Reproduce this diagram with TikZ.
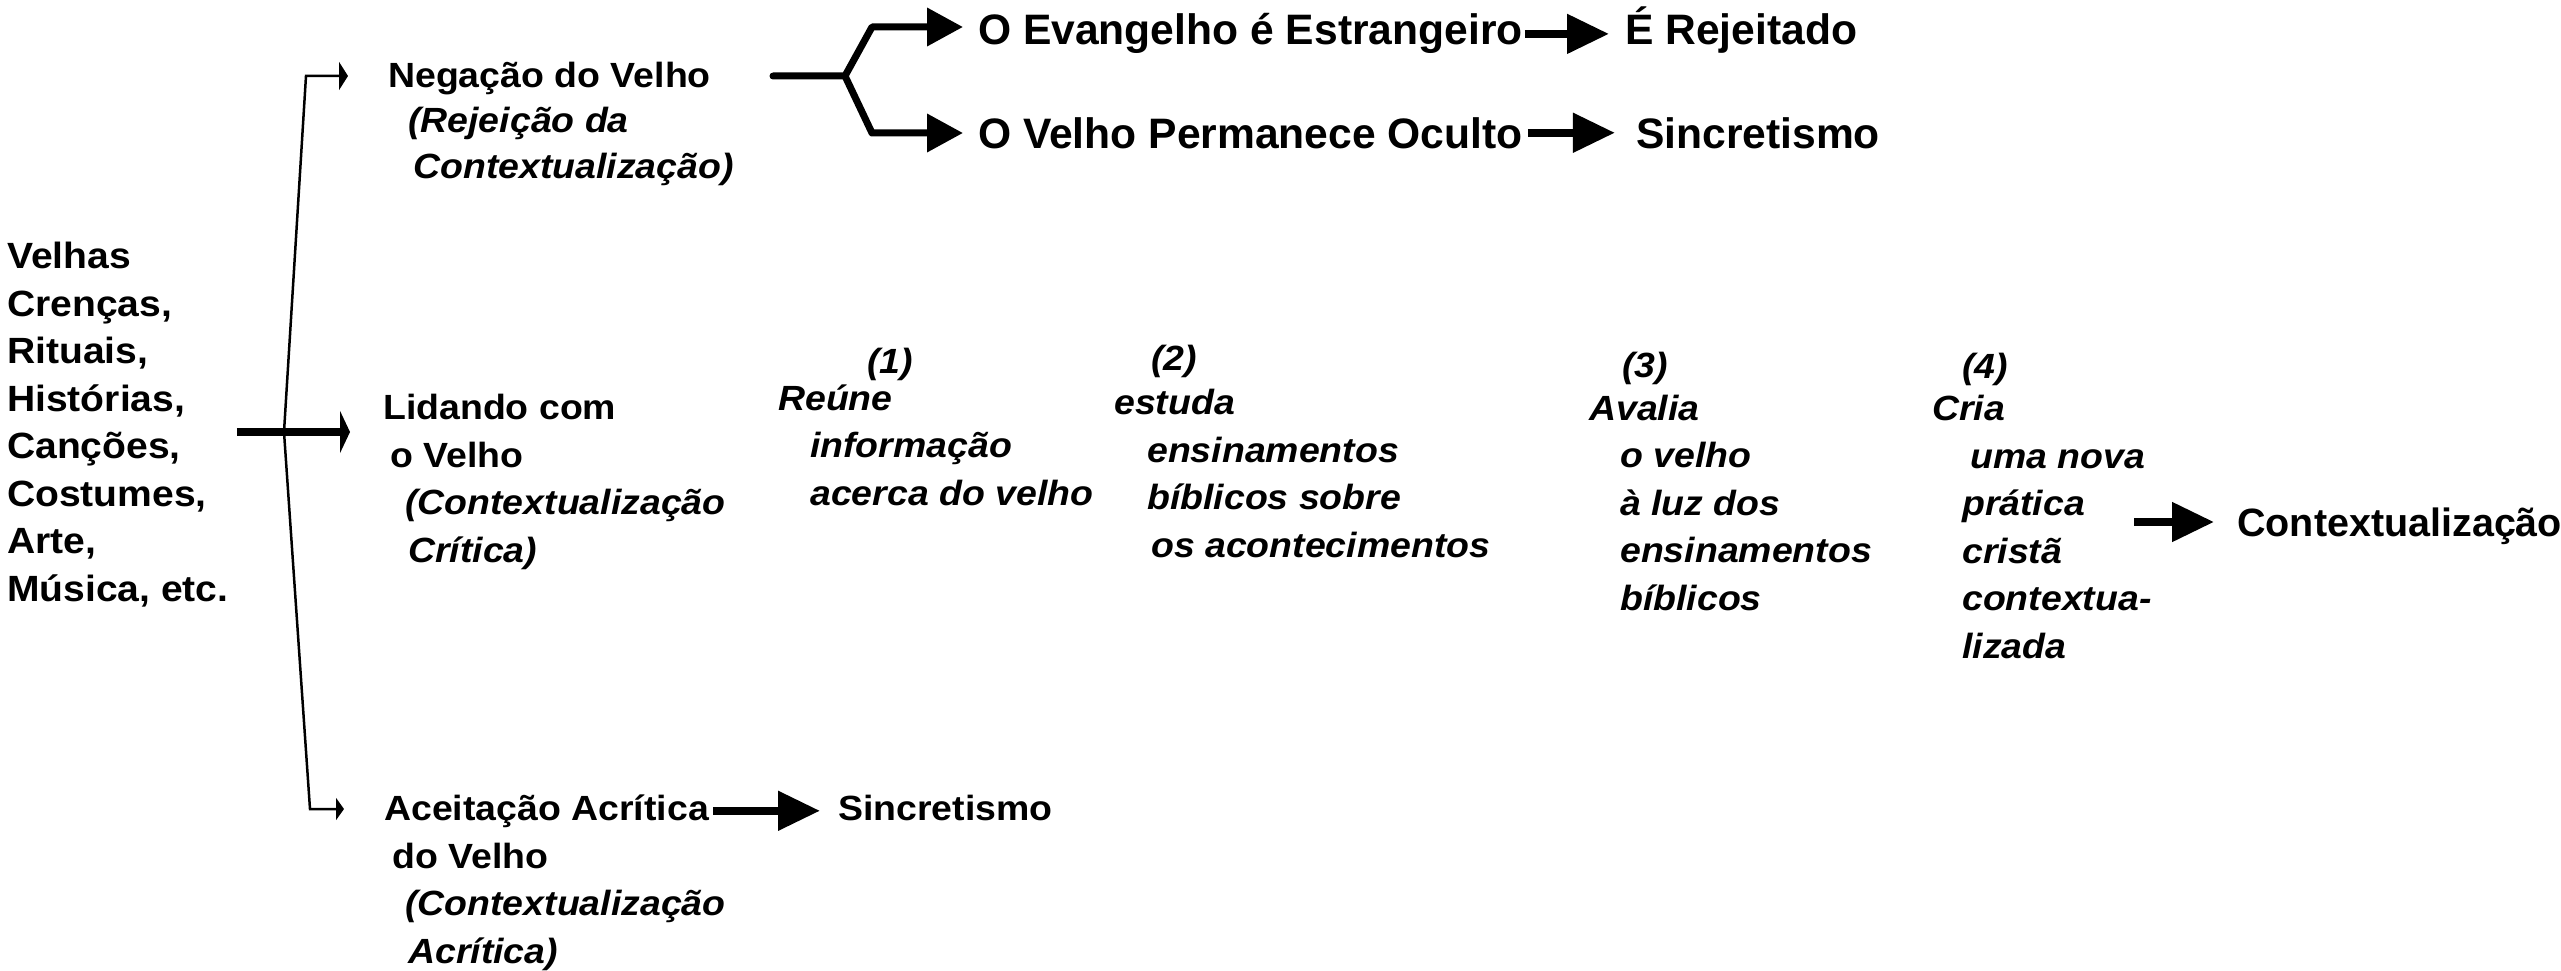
\documentclass[tikz,border=0pt]{standalone}
\usepackage{fontspec}
\setmainfont{Liberation Sans}[FakeStretch=1.07]
\newfontfamily\bigfamily{Liberation Sans}
\usetikzlibrary{arrows.meta, positioning}

\begin{document}
\begin{tikzpicture}[
    x=1pt, y=-1pt,
    txt/.style={anchor=base west, inner sep=0pt, align=left, font=\fontsize{35}{47.5}\selectfont\bfseries},
    ital/.style={txt, font=\fontsize{35}{47.5}\selectfont\bfseries\itshape},
    big/.style={anchor=base west, inner sep=0pt, font=\bigfamily\fontsize{42.6}{50}\selectfont\bfseries},
    brk/.style={line width=2.5pt},
    fork/.style={line width=7pt, line cap=round, line join=round, -{Triangle[length=36pt, width=37pt]}},
    bigarr/.style={line width=8pt, -{Triangle[length=42pt, width=38pt]}}
]
\useasboundingbox (0,0) rectangle (2561,971);

% Source list (multi-line nodes sit on their last baseline)
\node[txt, font=\fontsize{36.5}{47.5}\selectfont\bfseries] (velhas) at (7,601) {Velhas\\Crenças,\\Rituais,\\Histórias,\\Canções,\\Costumes,\\Arte,\\Música, etc.};

% The three ways of dealing with the old
\node[txt, font=\fontsize{35}{45.5}\selectfont\bfseries] (neg) at (388,178) {Negação do Velho\\\hspace*{20pt}\textit{(Rejeição da}\\\hspace*{25pt}\textit{Contextualização)}};
\node[txt] (lid) at (383,562) {Lidando com\\\hspace*{7pt}o Velho\\\hspace*{22pt}\textit{(Contextualização}\\\hspace*{25pt}\textit{Crítica)}};
\node[txt] (ace) at (384,820) {Aceitação Acrítica};
\node[txt] (acesub) at (392,963) {do Velho\\\hspace*{13pt}\textit{(Contextualização}\\\hspace*{16pt}\textit{Acrítica)}};

% Outcomes of the denial
\node[big] (evang) at (978,45) {O Evangelho é Estrangeiro};
\node[big] (rej) at (1625,45) {É Rejeitado};
\node[big] (ocul) at (978,148) {O Velho Permanece Oculto};
\node[big] (sinc1) [right=113pt of ocul] {Sincretismo};
\node[txt] (sinc2) at (838,820) {Sincretismo};

% Steps of critical contextualization
\node[ital] (n1) at (867,373) {(1)};
\node[ital] (c1) at (778,505) {Reúne\\\hspace*{32pt}informação\\\hspace*{32pt}acerca do velho};
\node[ital] (n2) at (1151,370) {(2)};
\node[ital] (c2) at (1114,557) {estuda\\\hspace*{33pt}ensinamentos\\\hspace*{33pt}bíblicos sobre\\\hspace*{37pt}os acontecimentos};
\node[ital] (n3) at (1622,377) {(3)};
\node[ital] (c3) at (1589,610) {Avalia\\\hspace*{31pt}o velho\\\hspace*{31pt}à luz dos\\\hspace*{31pt}ensinamentos\\\hspace*{31pt}bíblicos};
\node[ital] (n4) at (1962,378) {(4)};
\node[ital] (c4) at (1932,658) {Cria\\\hspace*{38pt}uma nova\\\hspace*{30pt}prática\\\hspace*{30pt}cristã\\\hspace*{30pt}contextua-\\\hspace*{30pt}lizada};
\node[big, font=\bigfamily\fontsize{39.5}{48}\selectfont\bfseries] (ctx) at (2237,536) {Contextualização};

% Bracket
\coordinate (negin) at (348,76);
\coordinate (brtop) at (306,76);
\coordinate (brmid) at (284,432);
\coordinate (brbot) at (310,809);
\coordinate (acein) at (344,809);
\coordinate (lidin) at (350,432);
\draw[brk, {Triangle[length=9pt, width=28pt]}-{Triangle[length=8pt, width=22pt]}]
    (negin) -- (brtop) -- (brmid) -- (brbot) -- (acein);
\draw[line width=8pt, -{Triangle[length=10pt, width=42pt]}] ([xshift=8pt]velhas.east |- lidin) -- (lidin);

% Fork
\coordinate (forkl) at (773,76);
\coordinate (forkm) at (845,76);
\coordinate (forku) at (872,27);
\coordinate (forkd) at (872,133);
\draw[fork, shorten >=15pt] (forkl) -- (forkm) -- (forku) -- (forku -| evang.west);
\draw[fork, shorten >=15pt] (forkm) -- (forkd) -- (forkd -| evang.west);

% Arrows between texts
\draw[bigarr, shorten <=2pt, shorten >=16pt] (evang.east) -- (evang.east -| rej.west);
\draw[bigarr, shorten <=5pt, shorten >=21pt] (ocul.east) -- (sinc1.west);
\draw[bigarr, shorten <=4pt, shorten >=18pt] (ace.east) -- (ace.east -| sinc2.west);
\coordinate (ctxin) at (2134,522);
\draw[bigarr, shorten >=23pt] (ctxin) -- (ctxin -| ctx.west);

\end{tikzpicture}
\end{document}
